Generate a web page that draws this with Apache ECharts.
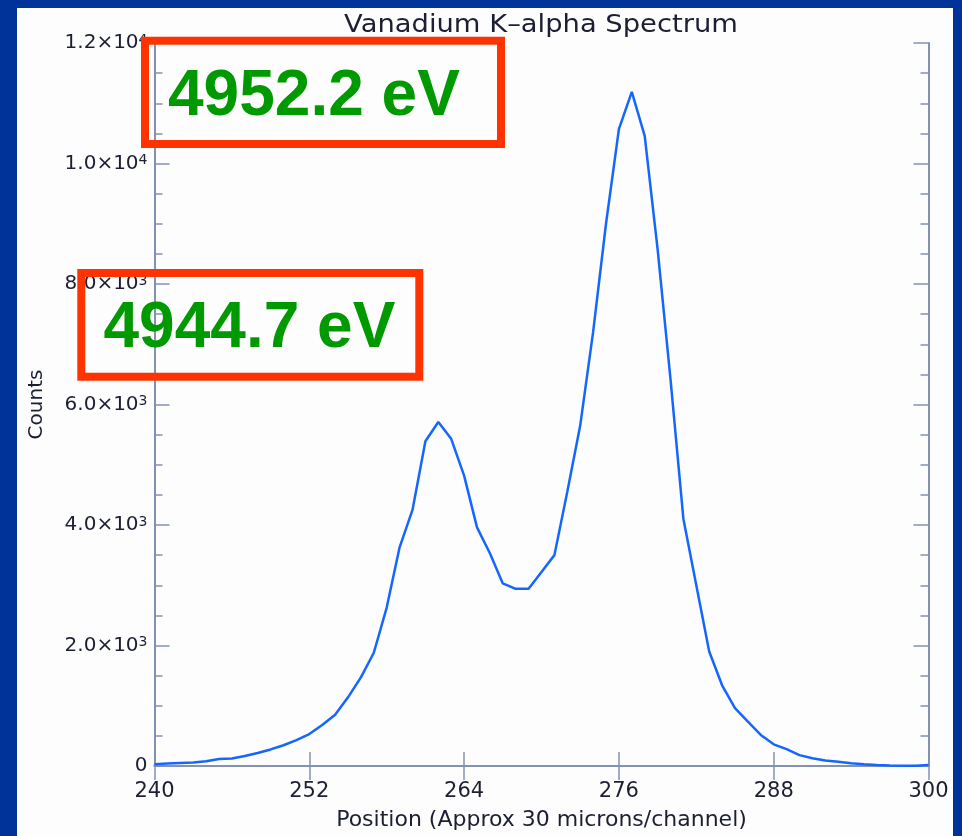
<!DOCTYPE html>
<html>
<head>
<meta charset="utf-8">
<script src="https://cdn.jsdelivr.net/npm/echarts@6/dist/echarts.min.js"></script>
<style>
  html, body { margin: 0; padding: 0; width: 962px; height: 836px; overflow: hidden; background: #003399; }
  #chart { position: absolute; left: 17px; top: 8px; width: 936px; height: 828px; background: #fdfdfd; }
</style>
</head>
<body>
<div id="chart"></div>
<script>
// Detector channel positions and measured counts
const channels = [
  240, 241, 242, 243, 244, 245, 246, 247, 248, 249,
  250, 251, 252, 253, 254, 255, 256, 257, 258, 259,
  260, 261, 262, 263, 264, 265, 266, 267, 268, 269,
  270, 271, 272, 273, 274, 275, 276, 277, 278, 279,
  280, 281, 282, 283, 284, 285, 286, 287, 288, 289,
  290, 291, 292, 293, 294, 295, 296, 297, 298, 299, 300
];
const counts = [
  30, 40, 50, 60, 80, 115, 125, 165, 215, 275,
  345, 430, 530, 680, 850, 1140, 1470, 1880, 2630, 3630,
  4250, 5390, 5710, 5430, 4820, 3960, 3530, 3030, 2940, 2940,
  3220, 3500, 4550, 5650, 7200, 9000, 10570, 11190, 10460, 8580,
  6420, 4100, 3000, 1900, 1340, 960, 735, 515, 360, 280,
  180, 128, 90, 70, 45, 28, 17, 8, 5, 5, 15
];

// Axis ticks
const xTickValues = [240, 252, 264, 276, 288, 300];
const yTickValues = [0, 2000, 4000, 6000, 8000, 10000, 12000];
const yTickMantissa = ['0', '2.0\u00d710', '4.0\u00d710', '6.0\u00d710', '8.0\u00d710', '1.0\u00d710', '1.2\u00d710'];
const yTickExponent = ['', '3', '3', '3', '3', '4', '4'];

// Line energies marked on the spectrum
const peakLabels = ['4952.2 eV', '4944.7 eV'];

const ink = '#1c1f33';
const axisColor = '#8391b3';
const font = 'DejaVu Sans';

const chart = echarts.init(document.getElementById('chart'), null, { renderer: 'canvas' });

const tickStyle = { show: true, inside: true, length: 14, lineStyle: { color: axisColor, width: 1.5 } };
const minorStyle = { show: true, splitNumber: 4, length: 8, lineStyle: { color: axisColor, width: 1.5 } };
const lineStyle = { show: true, lineStyle: { color: axisColor, width: 2 } };

function yLabel(v) {
  const i = yTickValues.indexOf(v);
  if (i < 0) return '';
  if (!yTickExponent[i]) return '{m|' + yTickMantissa[i] + '}';
  return '{m|' + yTickMantissa[i] + '}{e|' + yTickExponent[i] + '}';
}

chart.setOption({
  animation: false,
  grid: { left: 137.5, top: 35, right: 24.5, bottom: 68.3, containLabel: false },
  xAxis: [
    {
      type: 'value', position: 'bottom',
      min: xTickValues[0], max: xTickValues[xTickValues.length - 1], interval: 12,
      axisLine: lineStyle, axisTick: tickStyle, splitLine: { show: false },
      axisLabel: { margin: 15, fontFamily: font, fontSize: 21, color: ink },
      name: 'Position (Approx 30 microns/channel)',
      nameLocation: 'middle', nameGap: 43,
      nameTextStyle: { fontFamily: font, fontSize: 22, color: ink }
    },
    {
      type: 'value', position: 'top',
      min: xTickValues[0], max: xTickValues[xTickValues.length - 1], interval: 12,
      axisLine: lineStyle, axisTick: tickStyle, splitLine: { show: false },
      axisLabel: { show: false }
    }
  ],
  yAxis: [
    {
      type: 'value', position: 'left',
      min: 0, max: 12000, interval: 2000,
      axisLine: lineStyle, axisTick: Object.assign({}, tickStyle, { length: 15 }),
      minorTick: minorStyle, splitLine: { show: false }, minorSplitLine: { show: false },
      axisLabel: {
        margin: 7,
        formatter: yLabel,
        rich: {
          m: { fontFamily: font, fontSize: 20, color: ink },
          e: { fontFamily: font, fontSize: 14, color: ink, verticalAlign: 'top' }
        }
      },
      name: 'Counts',
      nameLocation: 'middle', nameRotate: 90, nameGap: 108,
      nameTextStyle: { fontFamily: font, fontSize: 20, color: ink }
    },
    {
      type: 'value', position: 'right',
      min: 0, max: 12000, interval: 2000,
      axisLine: lineStyle, axisTick: Object.assign({}, tickStyle, { length: 15 }),
      minorTick: minorStyle, splitLine: { show: false }, minorSplitLine: { show: false },
      axisLabel: { show: false }
    }
  ],
  series: [
    {
      type: 'line',
      xAxisIndex: 0, yAxisIndex: 0,
      data: channels.map((c, i) => [c, counts[i]]),
      symbol: 'none',
      lineStyle: { color: '#1466ff', width: 2.5 },
      z: 3
    }
  ],
  graphic: [
    {
      // chart title, widened to the plot's lettering
      type: 'text', z: 50,
      x: 524, y: 18, scaleX: 1.14,
      style: {
        text: 'Vanadium K\u2013alpha Spectrum',
        font: '24px "DejaVu Sans", sans-serif',
        fill: ink, textAlign: 'center', textVerticalAlign: 'middle'
      }
    },
    {
      type: 'rect', z: 100,
      shape: { x: 128, y: 32.7, width: 356, height: 103.3 },
      style: { fill: 'none', stroke: '#ff3300', lineWidth: 8 }
    },
    {
      type: 'text', z: 101,
      style: {
        x: 151, y: 89.5, text: peakLabels[0],
        font: 'bold 64px "Liberation Sans", Arial, sans-serif',
        fill: '#009900', textAlign: 'left', textVerticalAlign: 'middle'
      }
    },
    {
      type: 'rect', z: 100,
      shape: { x: 64.3, y: 265, width: 338, height: 103.7 },
      style: { fill: 'none', stroke: '#ff3300', lineWidth: 8 }
    },
    {
      type: 'text', z: 101,
      style: {
        x: 86.5, y: 321.5, text: peakLabels[1],
        font: 'bold 64px "Liberation Sans", Arial, sans-serif',
        fill: '#009900', textAlign: 'left', textVerticalAlign: 'middle'
      }
    }
  ]
});
</script>
</body>
</html>
